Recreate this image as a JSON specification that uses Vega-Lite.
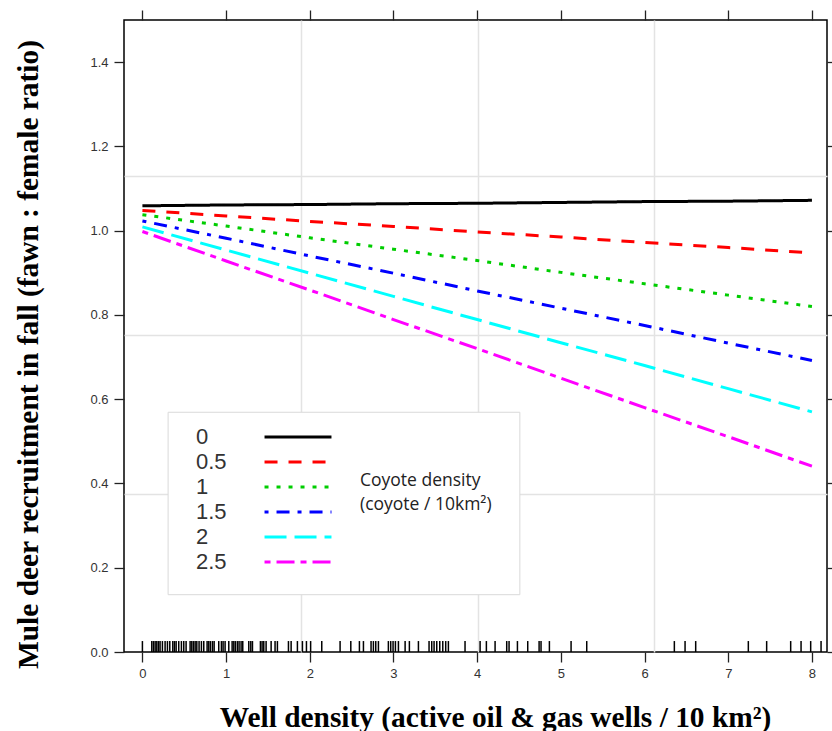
{
  "$schema": "https://vega.github.io/schema/vega-lite/v6.json",
  "width": 703,
  "height": 632,
  "autosize": {"type": "none"},
  "padding": {"left": 124, "top": 20, "right": 5, "bottom": 79},
  "background": "white",
  "config": {
    "view": {"stroke": "#000000", "strokeWidth": 1.5},
    "axis": {
      "domain": false,
      "grid": false,
      "tickColor": "#222222",
      "tickWidth": 1.3,
      "labelFont": "Liberation Sans",
      "labelFontSize": 13,
      "labelColor": "#333333",
      "titleFont": "Liberation Serif",
      "titleFontWeight": "bold",
      "titleFontSize": 29.4,
      "titleColor": "#000000"
    },
    "legend": {
      "orient": "none",
      "legendX": 161,
      "legendY": 404,
      "symbolType": "M-3,0H3",
      "symbolSize": 498,
      "symbolStrokeWidth": 3,
      "labelFont": "Liberation Sans",
      "labelFontSize": 22,
      "labelColor": "#333333",
      "labelAlign": "left",
      "labelOffset": -115,
      "labelLimit": 0,
      "rowPadding": 1,
      "padding": 0
    }
  },
  "datasets": {
    "curves": [
      {"coyote": "0", "wells": 0, "ratio": 1.059}, {"coyote": "0", "wells": 1, "ratio": 1.061}, {"coyote": "0", "wells": 2, "ratio": 1.062}, {"coyote": "0", "wells": 3, "ratio": 1.064}, {"coyote": "0", "wells": 4, "ratio": 1.065}, {"coyote": "0", "wells": 5, "ratio": 1.067}, {"coyote": "0", "wells": 6, "ratio": 1.069}, {"coyote": "0", "wells": 7, "ratio": 1.070}, {"coyote": "0", "wells": 8, "ratio": 1.072},
      {"coyote": "0.5", "wells": 0, "ratio": 1.048}, {"coyote": "0.5", "wells": 1, "ratio": 1.035}, {"coyote": "0.5", "wells": 2, "ratio": 1.022}, {"coyote": "0.5", "wells": 3, "ratio": 1.010}, {"coyote": "0.5", "wells": 4, "ratio": 0.997}, {"coyote": "0.5", "wells": 5, "ratio": 0.985}, {"coyote": "0.5", "wells": 6, "ratio": 0.972}, {"coyote": "0.5", "wells": 7, "ratio": 0.960}, {"coyote": "0.5", "wells": 8, "ratio": 0.947},
      {"coyote": "1", "wells": 0, "ratio": 1.038}, {"coyote": "1", "wells": 1, "ratio": 1.011}, {"coyote": "1", "wells": 2, "ratio": 0.983}, {"coyote": "1", "wells": 3, "ratio": 0.956}, {"coyote": "1", "wells": 4, "ratio": 0.929}, {"coyote": "1", "wells": 5, "ratio": 0.901}, {"coyote": "1", "wells": 6, "ratio": 0.874}, {"coyote": "1", "wells": 7, "ratio": 0.847}, {"coyote": "1", "wells": 8, "ratio": 0.820},
      {"coyote": "1.5", "wells": 0, "ratio": 1.023}, {"coyote": "1.5", "wells": 1, "ratio": 0.982}, {"coyote": "1.5", "wells": 2, "ratio": 0.940}, {"coyote": "1.5", "wells": 3, "ratio": 0.899}, {"coyote": "1.5", "wells": 4, "ratio": 0.857}, {"coyote": "1.5", "wells": 5, "ratio": 0.816}, {"coyote": "1.5", "wells": 6, "ratio": 0.775}, {"coyote": "1.5", "wells": 7, "ratio": 0.733}, {"coyote": "1.5", "wells": 8, "ratio": 0.692},
      {"coyote": "2", "wells": 0, "ratio": 1.009}, {"coyote": "2", "wells": 1, "ratio": 0.954}, {"coyote": "2", "wells": 2, "ratio": 0.899}, {"coyote": "2", "wells": 3, "ratio": 0.844}, {"coyote": "2", "wells": 4, "ratio": 0.789}, {"coyote": "2", "wells": 5, "ratio": 0.734}, {"coyote": "2", "wells": 6, "ratio": 0.680}, {"coyote": "2", "wells": 7, "ratio": 0.625}, {"coyote": "2", "wells": 8, "ratio": 0.570},
      {"coyote": "2.5", "wells": 0, "ratio": 0.998}, {"coyote": "2.5", "wells": 1, "ratio": 0.928}, {"coyote": "2.5", "wells": 2, "ratio": 0.859}, {"coyote": "2.5", "wells": 3, "ratio": 0.789}, {"coyote": "2.5", "wells": 4, "ratio": 0.720}, {"coyote": "2.5", "wells": 5, "ratio": 0.650}, {"coyote": "2.5", "wells": 6, "ratio": 0.580}, {"coyote": "2.5", "wells": 7, "ratio": 0.511}, {"coyote": "2.5", "wells": 8, "ratio": 0.441}
    ],
    "rug": [
      {"wells": 0.0}, {"wells": 0.112}, {"wells": 0.132}, {"wells": 0.152}, {"wells": 0.172}, {"wells": 0.192}, {"wells": 0.211}, {"wells": 0.239}, {"wells": 0.271}, {"wells": 0.299}, {"wells": 0.327}, {"wells": 0.363}, {"wells": 0.383}, {"wells": 0.403}, {"wells": 0.434}, {"wells": 0.466}, {"wells": 0.494}, {"wells": 0.522}, {"wells": 0.570}, {"wells": 0.590}, {"wells": 0.610}, {"wells": 0.630}, {"wells": 0.650}, {"wells": 0.677}, {"wells": 0.705}, {"wells": 0.733}, {"wells": 0.773}, {"wells": 0.793}, {"wells": 0.813}, {"wells": 0.837}, {"wells": 0.857}, {"wells": 0.912}, {"wells": 0.944}, {"wells": 0.964}, {"wells": 0.988}, {"wells": 1.032}, {"wells": 1.072}, {"wells": 1.092}, {"wells": 1.111}, {"wells": 1.135}, {"wells": 1.155}, {"wells": 1.179}, {"wells": 1.199}, {"wells": 1.271}, {"wells": 1.295}, {"wells": 1.315}, {"wells": 1.410}, {"wells": 1.430}, {"wells": 1.450}, {"wells": 1.478}, {"wells": 1.538}, {"wells": 1.585}, {"wells": 1.613}, {"wells": 1.745}, {"wells": 1.777}, {"wells": 1.852}, {"wells": 1.912}, {"wells": 1.960}, {"wells": 2.010}, {"wells": 2.143}, {"wells": 2.362}, {"wells": 2.490}, {"wells": 2.593}, {"wells": 2.641}, {"wells": 2.732}, {"wells": 2.760}, {"wells": 2.788}, {"wells": 2.820}, {"wells": 2.939}, {"wells": 2.967}, {"wells": 2.995}, {"wells": 3.023}, {"wells": 3.059}, {"wells": 3.139}, {"wells": 3.190}, {"wells": 3.298}, {"wells": 3.425}, {"wells": 3.457}, {"wells": 3.485}, {"wells": 3.517}, {"wells": 3.553}, {"wells": 3.589}, {"wells": 3.624}, {"wells": 3.656}, {"wells": 3.855}, {"wells": 4.035}, {"wells": 4.110}, {"wells": 4.214}, {"wells": 4.353}, {"wells": 4.381}, {"wells": 4.481}, {"wells": 4.604}, {"wells": 4.740}, {"wells": 4.763}, {"wells": 4.863}, {"wells": 5.122}, {"wells": 5.309}, {"wells": 6.356}, {"wells": 6.484}, {"wells": 6.611}, {"wells": 7.240}, {"wells": 7.459}, {"wells": 7.746}, {"wells": 7.870}, {"wells": 7.985}, {"wells": 8.109}
    ]
  },
  "resolve": {"axis": {"x": "independent", "y": "independent"}},
  "layer": [
    {
      "data": {"values": [{"box": "legend"}]},
      "mark": {"type": "rect", "fill": "#ffffff", "stroke": "#d9d9d9", "strokeWidth": 1},
      "encoding": {
        "x": {"datum": 0.307, "type": "quantitative", "scale": {"domain": [-0.22, 8.18], "nice": false, "zero": false},
              "axis": {"orient": "bottom", "values": [1.896, 4.011, 6.113], "grid": true, "gridColor": "#e3e3e3", "gridWidth": 1.5, "ticks": false, "labels": false, "domain": false, "title": null}},
        "x2": {"datum": 4.51},
        "y": {"datum": 0.569, "type": "quantitative", "scale": {"domain": [0, 1.5], "nice": false, "zero": false},
              "axis": {"orient": "left", "values": [0.376, 0.753, 1.129], "grid": true, "gridColor": "#e3e3e3", "gridWidth": 1.5, "ticks": false, "labels": false, "domain": false, "title": null}},
        "y2": {"datum": 0.136}
      }
    },
    {
      "data": {"name": "curves"},
      "mark": {"type": "line", "strokeWidth": 3, "strokeCap": "butt"},
      "encoding": {
        "x": {"field": "wells", "type": "quantitative",
              "axis": {"orient": "bottom", "values": [0, 1, 2, 3, 4, 5, 6, 7, 8], "tickSize": 10, "labelPadding": 5,
                       "title": "Well density (active oil & gas wells / 10 km²)", "titleX": 371, "titleY": 74, "titleAnchor": null, "titleAlign": "center", "titleBaseline": "alphabetic"}},
        "y": {"field": "ratio", "type": "quantitative",
              "axis": {"orient": "left", "values": [0, 0.2, 0.4, 0.6, 0.8, 1.0, 1.2, 1.4], "format": ".1f", "tickSize": 10, "labelPadding": 6,
                       "title": "Mule deer recruitment in fall (fawn : female ratio)", "titleX": -87, "titleY": 334, "titleAngle": -90, "titleAlign": "center", "titleBaseline": "alphabetic"}},
        "color": {"field": "coyote", "type": "nominal",
                  "scale": {"domain": ["0", "0.5", "1", "1.5", "2", "2.5"], "range": ["#000000", "#FF0000", "#00CD00", "#0000FF", "#00FFFF", "#FF00FF"]},
                  "legend": {"title": null}},
        "strokeDash": {"field": "coyote", "type": "nominal",
                       "scale": {"domain": ["0", "0.5", "1", "1.5", "2", "2.5"], "range": [[1, 0], [13, 11], [4, 8], [4, 8, 13, 8], [22, 8], [6, 6, 18, 6]]},
                       "legend": {"title": null}}
      }
    },
    {
      "data": {"name": "rug"},
      "mark": {"type": "rule", "color": "#000000", "strokeWidth": 1.5},
      "encoding": {
        "x": {"field": "wells", "type": "quantitative",
              "axis": {"orient": "top", "values": [0, 1, 2, 3, 4, 5, 6, 7, 8], "tickSize": 10, "labels": false, "domain": false, "title": null}},
        "y": {"datum": 0, "type": "quantitative",
              "axis": {"orient": "right", "values": [0, 0.2, 0.4, 0.6, 0.8, 1.0, 1.2, 1.4], "tickSize": 8, "labels": false, "domain": false, "title": null}},
        "y2": {"datum": 0.026}
      }
    },
    {
      "data": {"values": [{"label": "coyote"}]},
      "mark": {"type": "text", "font": "Open Sans", "fontSize": 17.5, "align": "left", "baseline": "alphabetic", "lineHeight": 24, "color": "#222222"},
      "encoding": {
        "x": {"datum": 2.6, "type": "quantitative", "axis": null},
        "y": {"datum": 0.394, "type": "quantitative", "axis": null},
        "text": {"value": ["Coyote density", "(coyote / 10km²)"]}
      }
    }
  ]
}
